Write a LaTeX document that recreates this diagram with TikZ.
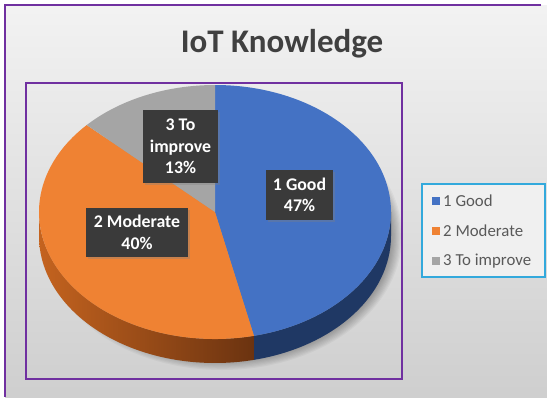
\documentclass[tikz,border=0pt]{standalone}
\usepackage{fontspec}
\setmainfont{Carlito}
\usetikzlibrary{shadows,calc}
\definecolor{pblue}{HTML}{4472C4}
\definecolor{porange}{HTML}{EF8233}
\definecolor{pgray}{HTML}{A5A5A5}
\definecolor{bside}{HTML}{1F3864}
\definecolor{oside1}{HTML}{C4631F}
\definecolor{oside2}{HTML}{6B3310}
\definecolor{frame}{HTML}{7030A0}
\definecolor{legline}{HTML}{33A9DC}
\definecolor{titlec}{HTML}{404040}
\definecolor{legtext}{HTML}{595959}
\definecolor{lblbox}{HTML}{3A3A3A}
\tikzset{
  lbl/.style={fill=lblbox, text=white, align=center, inner sep=0pt,
    font=\bfseries\fontsize{17.8}{21.5}\selectfont,
    drop shadow={shadow xshift=2pt, shadow yshift=-2pt, opacity=0.35}},
  legsq/.style={minimum size=8pt, inner sep=0pt},
  legtxt/.style={anchor=west, text=legtext, inner sep=0pt, font=\fontsize{16.8}{18}\selectfont},
  frameline/.style={draw=frame, line width=1.6pt}
}
\begin{document}
\begin{tikzpicture}[x=1pt,y=-1pt]
\useasboundingbox (0,0) rectangle (547,397);
\fill[white] (0,0) rectangle (547,397);
\shade[top color=black!5, bottom color=black!19] (5,5) rectangle (547,397);
% outer frame
\draw[frameline] (541,5) -- (5,5) -- (5,397);
% title
\node[anchor=base, text=titlec, font=\bfseries\fontsize{33}{36}\selectfont] (title) at (282,52) {IoT Knowledge};
% plot area
\draw[draw=frame, line width=1.3pt] (26,83) rectangle (402,379);
% shadow under pie
\foreach \k in {0,...,9}{
  \fill[black, opacity=0.035] (222,236) ellipse[x radius={180-1.2*\k}, y radius={134-1.2*\k}];
}
\coordinate (C) at (215,212);
% sides
\fill[bside] ($(C)+(0:176 and 127)$) arc[start angle=0,end angle=77.2,x radius=176,y radius=127]
  -- ++(0,24) arc[start angle=77.2,end angle=0,x radius=176,y radius=127] -- cycle;
\shade[left color=oside1, right color=oside2] ($(C)+(77.2:176 and 127)$) arc[start angle=77.2,end angle=180,x radius=176,y radius=127]
  -- ++(0,24) arc[start angle=180,end angle=77.2,x radius=176,y radius=127] -- cycle;
% top faces
\fill[pblue] (C) -- ($(C)+(-90:176 and 127)$) arc[start angle=-90,end angle=77.2,x radius=176,y radius=127] -- cycle;
\fill[porange] (C) -- ($(C)+(77.2:176 and 127)$) arc[start angle=77.2,end angle=223.2,x radius=176,y radius=127] -- cycle;
\fill[pgray] (C) -- ($(C)+(223.2:176 and 127)$) arc[start angle=223.2,end angle=270,x radius=176,y radius=127] -- cycle;
% data labels
\node[lbl, minimum width=75pt, minimum height=73pt] (l3) at (180.5,146.5) {3 To\\improve\\13\%};
\node[lbl, minimum width=102pt, minimum height=49pt] (l2) at (137,232.5) {2 Moderate\\40\%};
\node[lbl, minimum width=67pt, minimum height=50pt] (l1) at (299.5,195) {1 Good\\47\%};
% legend
\draw[legline, line width=1.2pt, fill=black!6] (422,184) rectangle (545,277);
\node[legsq, fill=pblue] (s1) at (436,201) {};
\node[legsq, fill=porange] (s2) at (436,231) {};
\node[legsq, fill=pgray] (s3) at (436,261) {};
\node[legtxt] (t1) at (443,201) {1 Good};
\node[legtxt] (t2) at (443,231) {2 Moderate};
\node[legtxt] (t3) at (443,261) {3 To improve};
\end{tikzpicture}
\end{document}
